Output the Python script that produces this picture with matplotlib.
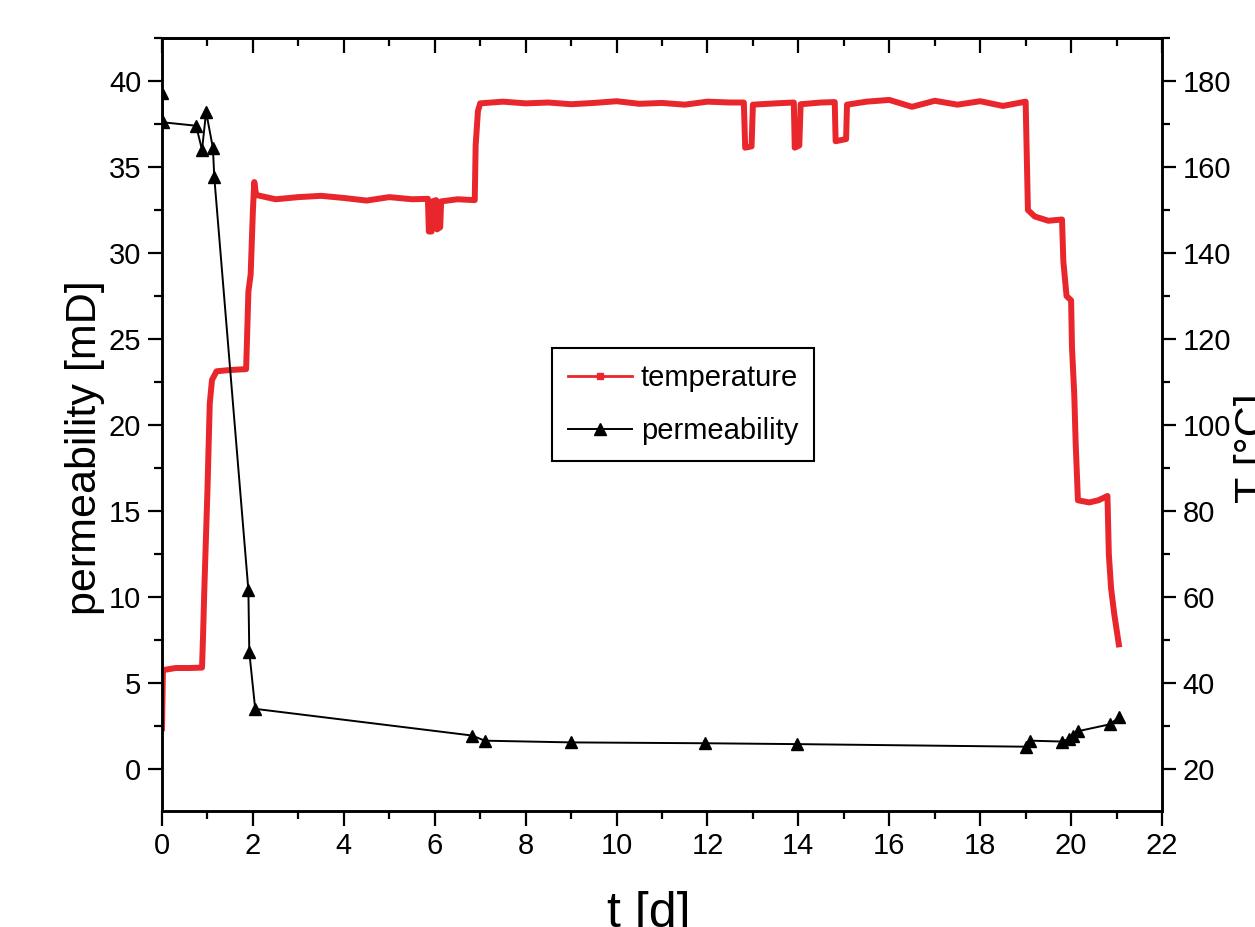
import matplotlib
matplotlib.use('Agg')
import matplotlib.pyplot as plt
from matplotlib.lines import Line2D
from matplotlib.ticker import MultipleLocator

plt.rcParams['font.family'] = ['Liberation Sans', 'DejaVu Sans']

# temperature trace [d], [°C]
temp_t = [0.00, 0.02, 0.30, 0.60, 0.88, 0.90, 0.93, 0.97, 1.00, 1.05, 1.10, 1.20, 1.50, 1.85,
          1.87, 1.90, 1.95, 2.00, 2.03, 2.07, 2.50, 3.00, 3.50, 4.00, 4.50, 5.00, 5.50, 5.85,
          5.87, 5.93, 5.95, 6.03, 6.05, 6.12, 6.14, 6.50, 6.88, 6.90, 6.95, 7.00, 7.50, 8.00,
          8.50, 9.00, 9.50, 10.0, 10.5, 11.0, 11.5, 12.0, 12.5, 12.8, 12.83, 12.97, 13.0, 13.5,
          13.9, 13.92, 14.02, 14.05, 14.5, 14.8, 14.82, 15.05, 15.07, 15.5, 16.0, 16.5, 17.0,
          17.5, 18.0, 18.5, 18.9, 19.0, 19.05, 19.2, 19.5, 19.8, 19.83, 19.9, 20.0, 20.02,
          20.07, 20.1, 20.15, 20.4, 20.6, 20.8, 20.83, 20.88, 20.95, 21.05]
temp_T = [29.5, 43.0, 43.5, 43.5, 43.6, 50.0, 61.5, 75.0, 85.0, 105.0, 110.5, 112.5, 112.8, 113.0,
          120.0, 131.0, 135.0, 150.0, 156.5, 153.5, 152.5, 153.0, 153.3, 152.8, 152.2, 153.0, 152.5, 152.6,
          145.0, 145.0, 152.0, 152.3, 145.5, 146.0, 152.0, 152.5, 152.3, 165.0, 173.0, 174.8, 175.2, 174.8,
          175.0, 174.6, 174.9, 175.3, 174.7, 174.9, 174.5, 175.2, 175.0, 175.0, 164.5, 164.8, 174.5, 174.8,
          175.0, 164.5, 165.0, 174.6, 175.0, 175.1, 166.0, 166.5, 174.5, 175.2, 175.6, 174.0, 175.4,
          174.5, 175.3, 174.2, 175.0, 175.2, 150.0, 148.5, 147.5, 147.8, 138.0, 130.0, 129.0, 118.0,
          107.0, 96.0, 82.5, 82.0, 82.5, 83.5, 70.0, 62.0, 56.0, 49.0]

# permeability [d], [mD]
perm_t = [0.01, 0.02, 0.75, 0.88, 0.97, 1.12, 1.15, 1.90, 1.92, 2.05, 6.82, 7.10, 9.00, 11.95,
          13.97, 19.00, 19.10, 19.80, 19.95, 20.05, 20.15, 20.85, 21.05]
perm_k = [39.3, 37.6, 37.4, 36.0, 38.2, 36.1, 34.4, 10.4, 6.8, 3.5, 1.95, 1.65, 1.55, 1.5,
          1.45, 1.3, 1.65, 1.6, 1.75, 1.95, 2.2, 2.6, 3.0]

fig = plt.figure(figsize=(12.55, 9.27), dpi=100)
ax1 = fig.add_axes([0.1291, 0.1251, 0.7968, 0.8339])
ax2 = ax1.twinx()
ax1.set_zorder(ax2.get_zorder() + 1)
ax1.patch.set_visible(False)

ax2.plot(temp_t, temp_T, color='#e8262b', lw=4.3, solid_joinstyle='round')
ax1.plot(perm_t, perm_k, color='black', lw=1.4, marker='^', ms=9)

ax1.set_xlim(0, 22)
ax1.set_ylim(-2.44, 42.5)
ax2.set_ylim(10.24, 190.0)

ax1.xaxis.set_major_locator(MultipleLocator(2))
ax1.xaxis.set_minor_locator(MultipleLocator(1))
ax1.yaxis.set_major_locator(MultipleLocator(5))
ax1.yaxis.set_minor_locator(MultipleLocator(2.5))
ax2.yaxis.set_major_locator(MultipleLocator(20))
ax2.yaxis.set_minor_locator(MultipleLocator(10))

for ax in (ax1, ax2):
    for s in ax.spines.values():
        s.set_linewidth(1.8)

ax1.tick_params(axis='x', which='both', direction='out', top=False, labelsize=21, width=1.6, pad=4)
ax1.tick_params(axis='x', which='major', length=11)
ax1.tick_params(axis='x', which='minor', length=6)
ax1.tick_params(axis='y', which='both', direction='out', right=False, labelsize=21, width=1.6, pad=5)
ax1.tick_params(axis='y', which='major', length=10)
ax1.tick_params(axis='y', which='minor', length=6)
ax2.tick_params(axis='y', which='both', direction='out', labelsize=21, width=1.6, pad=5)
ax2.tick_params(axis='y', which='major', length=10)
ax2.tick_params(axis='y', which='minor', length=6)

# top ticks point inward
sec = ax1.secondary_xaxis('top')
sec.xaxis.set_major_locator(MultipleLocator(2))
sec.xaxis.set_minor_locator(MultipleLocator(1))
sec.tick_params(axis='x', which='both', direction='in', labeltop=False, width=1.6)
sec.tick_params(axis='x', which='major', length=11)
sec.tick_params(axis='x', which='minor', length=6)
sec.spines['top'].set_linewidth(1.8)

ax1.set_xlabel('t [d]', fontsize=36)
ax1.xaxis.set_label_coords(0.487, -0.103)
ax1.xaxis.label.set_va('top')
ax1.set_ylabel('permeability [mD]', fontsize=31)
ax1.yaxis.set_label_coords(-0.057, 0.47)
ax2.set_ylabel('T [°C]', fontsize=31)
ax2.yaxis.set_label_coords(1.072, 0.47)

handles = [Line2D([], [], color='#e8262b', lw=2, marker='s', ms=5),
           Line2D([], [], color='black', lw=1.4, marker='^', ms=9)]
leg = ax1.legend(handles, ['temperature', 'permeability'], loc='upper left',
                 bbox_to_anchor=(0.39, 0.599), borderaxespad=0, fontsize=21,
                 fancybox=False, framealpha=1, edgecolor='black',
                 handlelength=2.2, handletextpad=0.3,
                 labelspacing=0.85, borderpad=0.55)
leg.get_frame().set_linewidth(1.5)

fig.savefig('out.png', dpi=100)
